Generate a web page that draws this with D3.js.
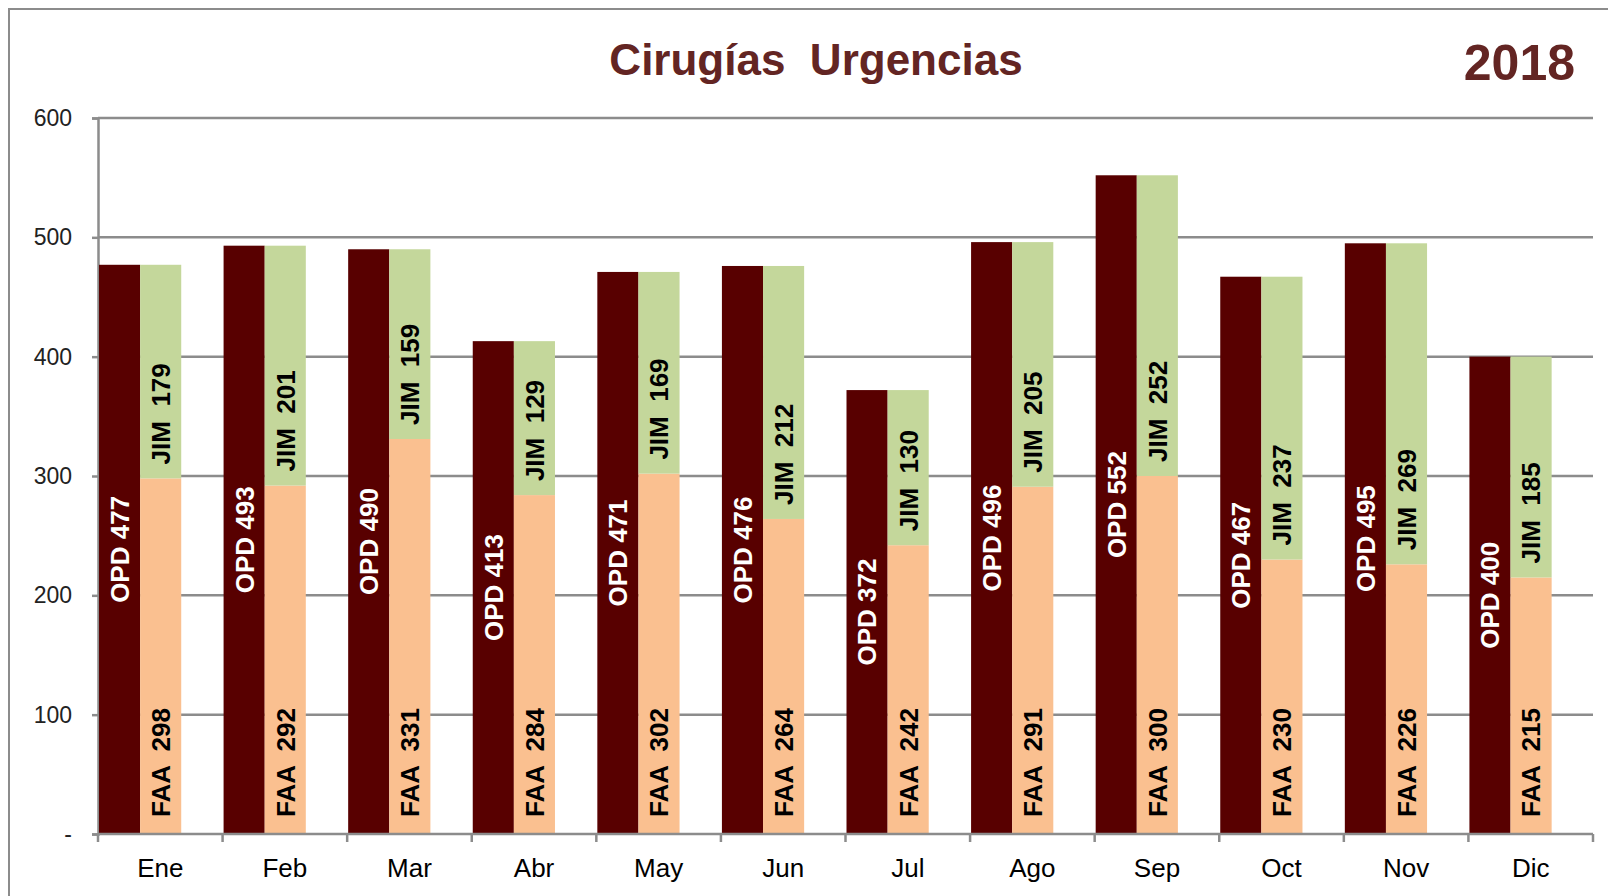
<!DOCTYPE html>
<html>
<head>
<meta charset="utf-8">
<script src="https://cdn.jsdelivr.net/npm/d3@7"></script>
<style>
  body { margin: 0; background: #fff; }
  text { font-family: "Liberation Sans", Arial, sans-serif; }
</style>
</head>
<body>
<svg id="chart" width="1608" height="896"></svg>
<script>
var months = ["Ene", "Feb", "Mar", "Abr", "May", "Jun", "Jul", "Ago", "Sep", "Oct", "Nov", "Dic"];
var opd = [477, 493, 490, 413, 471, 476, 372, 496, 552, 467, 495, 400];
var faa = [298, 292, 331, 284, 302, 264, 242, 291, 300, 230, 226, 215];
var jim = [179, 201, 159, 129, 169, 212, 130, 205, 252, 237, 269, 185];
var yTicks = [0, 100, 200, 300, 400, 500, 600];

var colors = { opd: "#580000", faa: "#fac090", jim: "#c4d79b", grid: "#8c8c8c", title: "#632523" };

var svg = d3.select("#chart");
// plot box (window.top is read-only, so no plain "top" here)
var plot = { left: 98, right: 1593, top: 118, bottom: 834 };

var x = d3.scaleBand().domain(months).range([plot.left, plot.right]).paddingInner(0).paddingOuter(0);
var y = d3.scaleLinear().domain([0, 600]).range([plot.bottom, plot.top]);
var barW = x.bandwidth() * 0.33;

// outer frame
svg.append("path")
  .attr("d", "M9,896 L9,9 L1608,9")
  .attr("fill", "none")
  .attr("stroke", colors.grid)
  .attr("stroke-width", 2);

// gridlines + y axis
svg.append("g").selectAll("line")
  .data(yTicks.filter(function (d) { return d > 0; }))
  .enter().append("line")
  .attr("x1", plot.left).attr("x2", plot.right)
  .attr("y1", function (d) { return y(d); })
  .attr("y2", function (d) { return y(d); })
  .attr("stroke", colors.grid)
  .attr("stroke-width", 2.5);

var yAxis = d3.axisLeft(y)
  .tickValues(yTicks)
  .tickSize(6)
  .tickPadding(20)
  .tickFormat(function (d) { return d === 0 ? "-" : d; });

var gy = svg.append("g").attr("transform", "translate(" + plot.left + ",0)").call(yAxis);
gy.select(".domain").attr("stroke", colors.grid).attr("stroke-width", 2.5);
gy.selectAll(".tick line").attr("stroke", colors.grid).attr("stroke-width", 2.5);
gy.selectAll(".tick text")
  .attr("font-size", 23)
  .attr("fill", "#222");

// bars
var groups = svg.append("g").selectAll("g")
  .data(months)
  .enter().append("g")
  .attr("transform", function (d) { return "translate(" + x(d) + ",0)"; });

groups.append("rect")
  .attr("x", 1)
  .attr("width", barW)
  .attr("y", function (d, i) { return y(opd[i]); })
  .attr("height", function (d, i) { return y(0) - y(opd[i]); })
  .attr("fill", colors.opd);

groups.append("rect")
  .attr("x", 1 + barW)
  .attr("width", barW)
  .attr("y", function (d, i) { return y(faa[i]); })
  .attr("height", function (d, i) { return y(0) - y(faa[i]); })
  .attr("fill", colors.faa);

groups.append("rect")
  .attr("x", 1 + barW)
  .attr("width", barW)
  .attr("y", function (d, i) { return y(faa[i] + jim[i]); })
  .attr("height", function (d, i) { return y(faa[i]) - y(faa[i] + jim[i]); })
  .attr("fill", colors.jim);

// labels
function vlabel(g, cx, cy, anchor, fill, txt) {
  g.append("text")
    .attr("transform", "translate(" + cx + "," + cy + ") rotate(-90)")
    .attr("text-anchor", anchor)
    .attr("dy", "0.36em")
    .attr("font-size", 26)
    .attr("font-weight", "bold")
    .attr("fill", fill)
    .attr("xml:space", "preserve")
    .text(txt);
}

groups.each(function (d, i) {
  var g = d3.select(this);
  vlabel(g, 1 + barW / 2, y(opd[i] / 2), "middle", "#fff", "OPD " + opd[i]);
  vlabel(g, 1 + barW * 1.5, y(0) - 17, "start", "#000", "FAA  " + faa[i]);
  vlabel(g, 1 + barW * 1.5, y(faa[i]) - 14, "start", "#000", "JIM  " + jim[i]);
});

// x axis
var xAxis = d3.axisBottom(x).tickSize(0).tickPadding(25);
var gx = svg.append("g").attr("transform", "translate(0," + plot.bottom + ")").call(xAxis);
gx.select(".domain").remove();
gx.selectAll(".tick text").attr("font-size", 26).attr("fill", "#000");

svg.append("line")
  .attr("x1", plot.left).attr("x2", plot.right)
  .attr("y1", plot.bottom).attr("y2", plot.bottom)
  .attr("stroke", colors.grid).attr("stroke-width", 2.5);

svg.append("g").selectAll("line")
  .data(months.concat(["end"]))
  .enter().append("line")
  .attr("x1", function (d) { return d === "end" ? plot.right : x(d); })
  .attr("x2", function (d) { return d === "end" ? plot.right : x(d); })
  .attr("y1", plot.bottom).attr("y2", plot.bottom + 8)
  .attr("stroke", colors.grid).attr("stroke-width", 2.5);

// titles
svg.append("text")
  .attr("x", 816).attr("y", 75)
  .attr("text-anchor", "middle")
  .attr("font-size", 44)
  .attr("font-weight", "bold")
  .attr("fill", colors.title)
  .attr("xml:space", "preserve")
  .text("Cirugías  Urgencias");

svg.append("text")
  .attr("x", 1575).attr("y", 80)
  .attr("text-anchor", "end")
  .attr("font-size", 50)
  .attr("font-weight", "bold")
  .attr("fill", colors.title)
  .text("2018");
</script>
</body>
</html>
